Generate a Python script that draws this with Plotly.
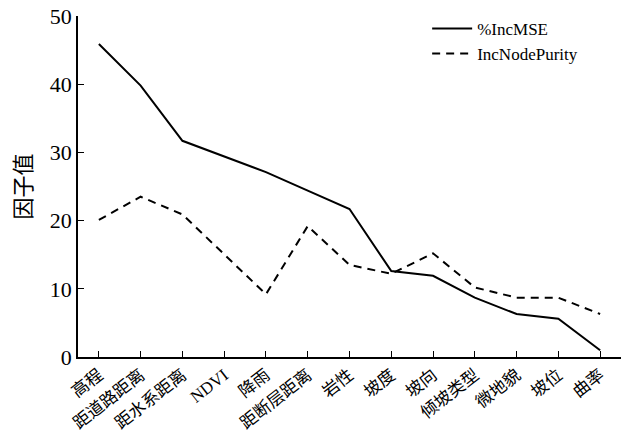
import plotly.graph_objects as go

categories = ["高程", "距道路距离", "距水系距离", "NDVI", "降雨", "距断层距离", "岩性",
              "坡度", "坡向", "倾坡类型", "微地貌", "坡位", "曲率"]
inc_mse = [45.9, 39.8, 31.7, 29.4, 27.1, 24.4, 21.7, 12.6, 11.9, 8.7, 6.3, 5.6, 1.0]
inc_node_purity = [20.1, 23.5, 20.9, 15.1, 9.2, 19.2, 13.5, 12.2, 15.2, 10.2, 8.7, 8.7, 6.3]
y_ticks = [0, 10, 20, 30, 40, 50]

serif = "Liberation Serif, Times New Roman, Noto Sans CJK SC, serif"

fig = go.Figure()
fig.add_trace(go.Scatter(x=categories, y=inc_mse, mode="lines", name="%IncMSE",
                         line=dict(color="black", width=2)))
fig.add_trace(go.Scatter(x=categories, y=inc_node_purity, mode="lines", name="IncNodePurity",
                         line=dict(color="black", width=2, dash="8px,6px")))

fig.update_layout(
    width=621, height=439,
    margin=dict(l=78, r=0, t=16, b=82),
    plot_bgcolor="white", paper_bgcolor="white",
    font=dict(family=serif, color="black"),
    showlegend=True,
    legend=dict(x=0.643, y=1.015, xanchor="left", yanchor="top",
                bgcolor="rgba(0,0,0,0)", font=dict(size=17, family=serif),
                tracegroupgap=0, itemwidth=40),
    xaxis=dict(type="category", range=[-0.5, 12.5], showline=True, linecolor="black",
               linewidth=1.5, ticks="inside", ticklen=6, tickcolor="black",
               tickangle=-38, tickfont=dict(size=17, family=serif),
               showgrid=False, zeroline=False, automargin=False),
    yaxis=dict(range=[0, 50], tickvals=y_ticks, showline=True, linecolor="black",
               linewidth=1.5, ticks="inside", ticklen=6, tickcolor="black",
               tickfont=dict(size=22, family=serif), showgrid=False, zeroline=False,
               automargin=False,
               title=dict(text="因子值", font=dict(size=22, family="Noto Sans CJK SC"),
                          standoff=12)),
)

fig.write_html("out.html", post_script="document.body.style.margin='0';",
               config={"displayModeBar": False})
